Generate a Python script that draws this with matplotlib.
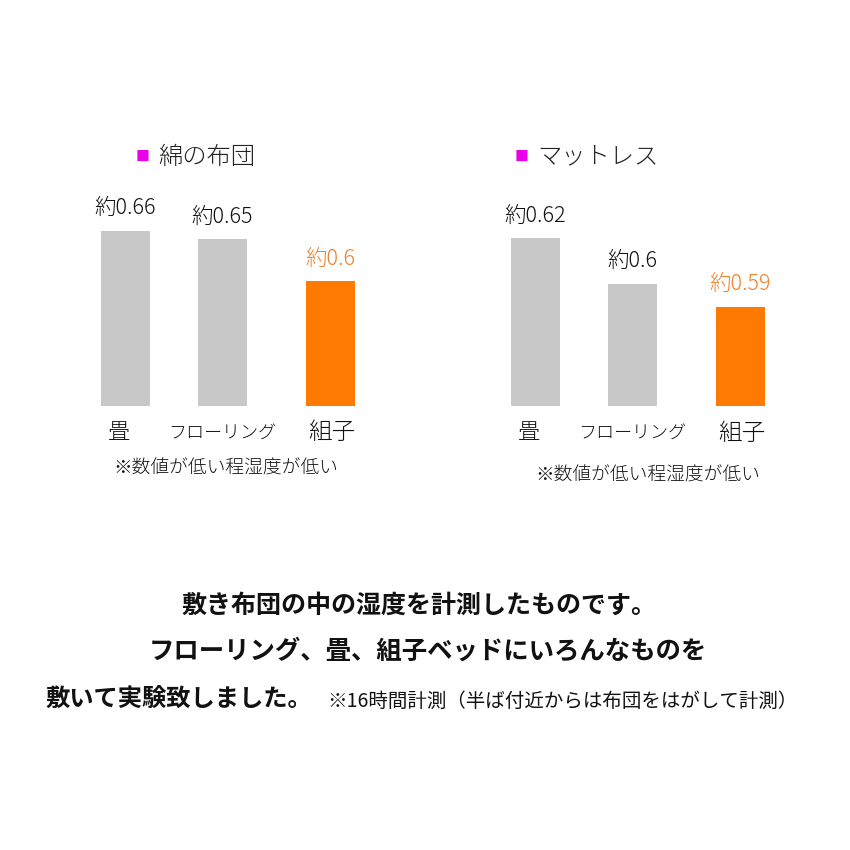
"""
Humidity inside futon: two small bar charts plus explanatory text.
"""
import matplotlib
matplotlib.use("Agg")
import matplotlib.pyplot as plt

plt.rcParams['font.family'] = ['Noto Sans CJK JP', 'DejaVu Sans']

# data
categories = ['畳', 'フローリング', '組子']
futon_values = [0.66, 0.65, 0.6]
mattress_values = [0.62, 0.6, 0.59]
futon_labels = ['約0.66', '約0.65', '約0.6']
mattress_labels = ['約0.62', '約0.6', '約0.59']
chart_titles = ['綿の布団', 'マットレス']
note = '※数値が低い程湿度が低い'
lines = ['敷き布団の中の湿度を計測したものです。',
         'フローリング、畳、組子ベッドにいろんなものを']
last_big = '敷いて実験致しました。'
last_small = '※16時間計測（半ば付近からは布団をはがして計測）'

GRAY = '#c8c8c8'
ORANGE = '#ff7a00'
ORANGE_TXT = '#f0802a'
MAGENTA = '#e800e8'
W = H = 850

fig = plt.figure(figsize=(8.5, 8.5), dpi=100)
fig.patch.set_facecolor('white')

xpos = [0, 1, 2.11]          # slightly wider gap before the last bar
label_sizes = [16, 13, 17]
label_dx = [-6, 0, 2]


def px(x, y):
    return x / W, 1 - y / H


def draw_chart(left_px, values, labels, ymin, scale, title, title_x, note_xy):
    ax_h = 220
    ax = fig.add_axes([left_px / W, 1 - 406 / H, 350 / W, ax_h / H])
    ax.set_xlim(-0.778, 2.83)
    ax.set_ylim(ymin, ymin + ax_h / scale)
    colors = [GRAY, GRAY, ORANGE]
    ax.bar(xpos, values, width=0.505, bottom=0, color=colors)
    for i, (v, lab) in enumerate(zip(values, labels)):
        ax.annotate(lab, (xpos[i], v), xytext=(0, 12), textcoords='offset pixels',
                    ha='center', va='bottom', fontsize=15.5, fontweight='light',
                    color=ORANGE_TXT if i == 2 else '#111111')
        ax.annotate(categories[i], (xpos[i], ymin), xytext=(label_dx[i], -27),
                    textcoords='offset pixels', ha='center', va='center',
                    fontsize=label_sizes[i], fontweight='light', color='#111111')
    ax.axis('off')
    fig.text(*px(title_x, 157), '■', color=MAGENTA, fontsize=10,
             ha='left', va='center')
    fig.text(*px(title_x + 22, 157), title, fontsize=17.5, color='#222222',
             fontweight='light', ha='left', va='center')
    fig.text(*px(*note_xy), note, fontsize=13.5, color='#111111',
             fontweight='light', ha='center', va='center')


draw_chart(50, futon_values, futon_labels, 0.4515, 839, chart_titles[0], 136, (226, 469))
draw_chart(460, mattress_values, mattress_labels, 0.5464, 2277, chart_titles[1], 515, (648, 476))

fig.text(*px(419, 606), lines[0], fontsize=18, fontweight='bold',
         ha='center', va='center', color='#111111')
fig.text(*px(428, 651), lines[1], fontsize=18.3, fontweight='bold',
         ha='center', va='center', color='#111111')
fig.text(*px(45, 700), last_big, fontsize=17.5, fontweight='bold',
         ha='left', va='center', color='#111111')
fig.text(*px(798, 701), last_small, fontsize=14, ha='right', va='center',
         color='#111111')

fig.savefig('out.png', dpi=100, facecolor='white')
